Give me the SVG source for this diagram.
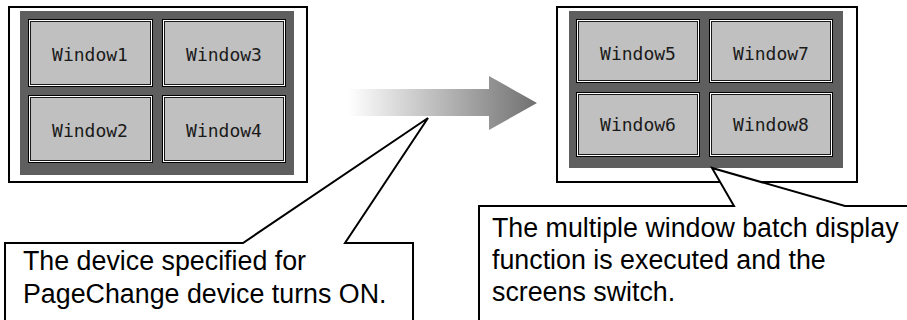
<svg xmlns="http://www.w3.org/2000/svg" width="907" height="320" viewBox="0 0 907 320">
<defs>
<linearGradient id="g" x1="348" y1="0" x2="537" y2="0" gradientUnits="userSpaceOnUse">
<stop offset="0" stop-color="#ffffff"/>
<stop offset="1" stop-color="#707070"/>
</linearGradient>
<style>
.frame{fill:#fff;stroke:#000;stroke-width:2}
.panel{fill:#5f5f5f}
.b1{fill:#000}
.b2{fill:#fff}
.b3{fill:#1a1a1a}
.b4{fill:#c0c0c0}
.wt{font-family:"DejaVu Sans Mono","Liberation Mono",monospace;font-size:18px;fill:#1a1a1a;text-anchor:middle}
.call{fill:#fff;stroke:#000;stroke-width:2;stroke-linejoin:miter}
.ct{font-family:"Liberation Sans",Arial,sans-serif;font-size:26.8px;fill:#000}
</style>
</defs>
<g id="left-screen">
<rect class="frame" x="9" y="7" width="298" height="175"/>
<rect class="panel" x="20" y="11" width="274" height="164"/>
<g id="w1"><rect class="b1" x="28" y="19" width="125" height="68"/><rect class="b2" x="29" y="20" width="123" height="66"/><rect class="b3" x="30" y="21" width="121" height="64"/><rect class="b4" x="31" y="22" width="119" height="62"/><text class="wt" x="90" y="61">Window1</text></g>
<g id="w3"><rect class="b1" x="162" y="19" width="124" height="68"/><rect class="b2" x="163" y="20" width="122" height="66"/><rect class="b3" x="164" y="21" width="120" height="64"/><rect class="b4" x="165" y="22" width="118" height="62"/><text class="wt" x="224" y="61">Window3</text></g>
<g id="w2"><rect class="b1" x="28" y="95" width="125" height="68"/><rect class="b2" x="29" y="96" width="123" height="66"/><rect class="b3" x="30" y="97" width="121" height="64"/><rect class="b4" x="31" y="98" width="119" height="62"/><text class="wt" x="90" y="137">Window2</text></g>
<g id="w4"><rect class="b1" x="162" y="95" width="124" height="68"/><rect class="b2" x="163" y="96" width="122" height="66"/><rect class="b3" x="164" y="97" width="120" height="64"/><rect class="b4" x="165" y="98" width="118" height="62"/><text class="wt" x="224" y="137">Window4</text></g>
</g>
<g id="right-screen">
<rect class="frame" x="557" y="7" width="300" height="175"/>
<rect class="panel" x="569" y="11" width="274" height="157"/>
<g id="w5"><rect class="b1" x="576" y="19" width="124" height="64"/><rect class="b2" x="577" y="20" width="122" height="62"/><rect class="b3" x="578" y="21" width="120" height="60"/><rect class="b4" x="579" y="22" width="118" height="58"/><text class="wt" x="638" y="60">Window5</text></g>
<g id="w7"><rect class="b1" x="709" y="19" width="124" height="64"/><rect class="b2" x="710" y="20" width="122" height="62"/><rect class="b3" x="711" y="21" width="120" height="60"/><rect class="b4" x="712" y="22" width="118" height="58"/><text class="wt" x="771" y="60">Window7</text></g>
<g id="w6"><rect class="b1" x="576" y="92" width="124" height="65"/><rect class="b2" x="577" y="93" width="122" height="63"/><rect class="b3" x="578" y="94" width="120" height="61"/><rect class="b4" x="579" y="95" width="118" height="59"/><text class="wt" x="638" y="131">Window6</text></g>
<g id="w8"><rect class="b1" x="709" y="92" width="124" height="65"/><rect class="b2" x="710" y="93" width="122" height="63"/><rect class="b3" x="711" y="94" width="120" height="61"/><rect class="b4" x="712" y="95" width="118" height="59"/><text class="wt" x="771" y="131">Window8</text></g>
</g>
<g id="connectors">
<polygon id="arrow" fill="url(#g)" points="348,89 489,89 489,76 537,103 489,130 489,116 348,116"/>
</g>
<g id="callout-left">
<path class="call" d="M5,243 L243,243 L428,118 L345,243 L413,243 L413,330 L5,330 Z"/>
<text class="ct" x="23" y="270">The device specified for</text>
<text class="ct" x="23" y="303">PageChange device turns ON.</text>
</g>
<g id="callout-right">
<path class="call" d="M479,206 L734,206 L712,168 L845,206 L912,206 L912,330 L479,330 Z"/>
<text class="ct" x="492" y="237">The multiple window batch display</text>
<text class="ct" x="492" y="269">function is executed and the</text>
<text class="ct" x="492" y="301">screens switch.</text>
</g>
</svg>
